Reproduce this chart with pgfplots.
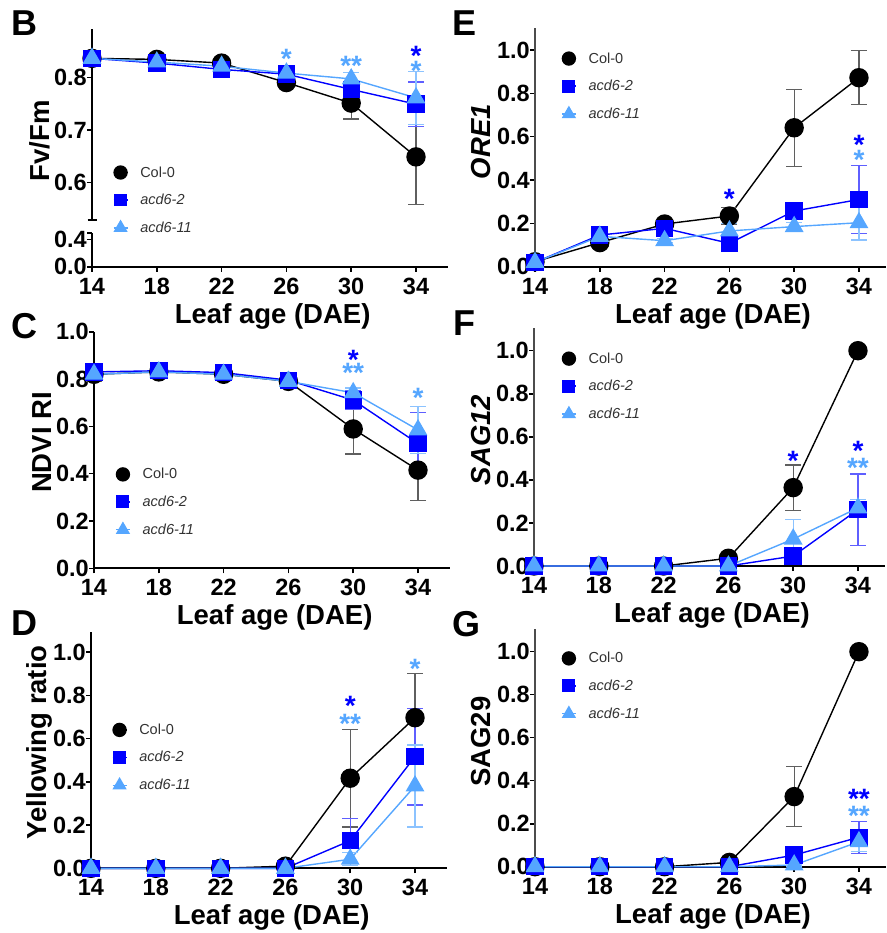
\documentclass[border=0pt]{standalone}
\usepackage{pgfplots}
\pgfplotsset{compat=1.18}
\usepackage{fontspec}
\setmainfont{Liberation Sans}
\definecolor{cblue}{RGB}{0,0,255}
\definecolor{clight}{RGB}{85,166,255}
\definecolor{eblack}{RGB}{95,95,95}
\definecolor{eblue}{RGB}{95,95,255}
\definecolor{elight}{RGB}{140,195,255}
\definecolor{legtext}{RGB}{50,50,50}
\newcommand\tickfont{\fontsize{23.5}{26}\selectfont\bfseries}
\newcommand\labfont{\fontsize{27.5}{30}\selectfont\bfseries}
\newcommand\legfont{\fontsize{14.5}{17}\selectfont}
\newcommand\letfont{\fontsize{36}{40}\selectfont\bfseries}
\newcommand\starfont{\fontsize{28}{30}\selectfont\bfseries}
\tikzset{sig/.style={anchor=base, yshift=-16pt, font=\starfont, inner sep=0pt}}
\pgfplotsset{
 prism/.style={
  scale only axis, clip=false,
  axis x line*=bottom, axis y line*=left,
  axis line style={line width=2pt,-},
  tick align=outside, major tick length=5pt,
  every tick/.style={line width=1.6pt, black},
  xmin=14,
  xtick={14,18,22,26,30,34},
  ymin=0,
  tick label style={font=\tickfont},
  /pgf/number format/assume math mode=true,
  yticklabel style={/pgf/number format/fixed,/pgf/number format/fixed zerofill,/pgf/number format/precision=1, inner sep=0pt},
  xticklabel style={inner sep=0pt, yshift=-6pt},
  label style={font=\labfont},
  xlabel style={at={(axis description cs:0.507,0)}, anchor=north, inner sep=0pt, yshift=-36.5pt},
  legend style={draw=none, fill=none, inner sep=0pt, font=\legfont, text=legtext, row sep=15pt, column sep=12pt, nodes={inner sep=0pt}},
  legend cell align=left,
  legend image code/.code={
    \draw[##1, line width=1.4pt] (-7pt,0pt) -- (7pt,0pt);
    \draw[##1, /tikz/every mark/.append style={scale=0.72}] plot coordinates {(0pt,0pt)};
  },
 },
 left/.style={xmax=36, width=356.4pt},
 right/.style={xmax=35.67, width=351pt, y axis line style={line width=1.3pt, black!70}},
 col0/.style={black, line width=1.4pt, mark=*, mark size=9pt, mark options={solid, fill=black},
   /pgfplots/error bars/y dir=both, /pgfplots/error bars/y explicit,
   /pgfplots/error bars/error bar style={eblack, line width=1.2pt},
   /pgfplots/error bars/error mark options={rotate=90, eblack, line width=1.2pt, mark size=8pt}},
 a2/.style={cblue, line width=1.4pt, mark=square*, mark size=8pt, mark options={solid, fill=cblue},
   /pgfplots/error bars/y dir=both, /pgfplots/error bars/y explicit,
   /pgfplots/error bars/error bar style={eblue, line width=1.2pt},
   /pgfplots/error bars/error mark options={rotate=90, eblue, line width=1.2pt, mark size=8pt}},
 a11/.style={clight, line width=1.4pt, mark=triangle*, mark size=9.5pt, mark options={solid, fill=clight},
   /pgfplots/error bars/y dir=both, /pgfplots/error bars/y explicit,
   /pgfplots/error bars/error bar style={elight, line width=1.2pt},
   /pgfplots/error bars/error mark options={rotate=90, elight, line width=1.2pt, mark size=8pt}},
}
\begin{document}
\begin{tikzpicture}
\useasboundingbox (0pt,0pt) rectangle (886pt,-933pt);
% ---------------- B (top part) ----------------
\begin{axis}[prism, left, at={(92pt,-220pt)}, anchor=south west, height=191pt,
  ymin=0.5292, ymax=0.8917, axis x line=none, xtick=\empty,
  ytick={0.6,0.7,0.8},
  extra y ticks={0.5292}, extra y tick labels={}, extra y tick style={major tick length=9pt, tick align=center},
  ylabel={Fv/Fm}, ylabel style={at={(axis description cs:-0.118,0.414)}, anchor=base, inner sep=0pt},
  legend style={at={(0.058,0.105)}, anchor=west}]
\addplot[col0] coordinates {(14,0.836)+-(0,0.005) (18,0.834)+-(0,0.004) (22,0.827)+-(0,0.005) (26,0.790)+-(0,0.008) (30,0.751)+-(0,0.030) (34,0.649)+-(0,0.091)};
\addlegendentry{Col-0}
\addplot[a2] coordinates {(14,0.836)+-(0,0.004) (18,0.827)+-(0,0.004) (22,0.815)+-(0,0.005) (26,0.806)+-(0,0.006) (30,0.777)+-(0,0.012) (34,0.749)+-(0,0.042)};
\addlegendentry{\textit{acd6-2}}
\addplot[a11] coordinates {(14,0.836)+-(0,0.004) (18,0.829)+-(0,0.004) (22,0.821)+-(0,0.005) (26,0.808)+-(0,0.006) (30,0.797)+-(0,0.012) (34,0.761)+-(0,0.050)};
\addlegendentry{\textit{acd6-11}}
\node[sig, text=clight] at (axis cs:26,0.847) {*};
\node[sig, text=clight] at (axis cs:30,0.834) {**};
\node[sig, text=cblue] at (axis cs:34,0.852) {*};
\node[sig, text=clight] at (axis cs:34,0.825) {*};
\end{axis}
% ---------------- B (bottom part) ----------------
\begin{axis}[prism, left, at={(92pt,-266.7pt)}, anchor=south west, height=33.7pt,
  ymin=0, ymax=0.492, ytick={0,0.4},
  extra y ticks={0.492}, extra y tick labels={},
  xlabel={Leaf age (DAE)}]
\end{axis}
% ---------------- C ----------------
\begin{axis}[prism, left, at={(94pt,-568.3pt)}, anchor=south west, height=236.6pt,
  ymax=1, ytick={0,0.2,...,1.0},
  xlabel={Leaf age (DAE)},
  ylabel={NDVI RI}, ylabel style={at={(axis description cs:-0.118,0.532)}, anchor=base, inner sep=0pt},
  legend style={at={(0.059,0.281)}, anchor=west}]
\addplot[col0] coordinates {(14,0.820)+-(0,0.030) (18,0.830)+-(0,0.010) (22,0.820)+-(0,0.010) (26,0.790)+-(0,0.010) (30,0.589)+-(0,0.106) (34,0.415)+-(0,0.130)};
\addlegendentry{Col-0}
\addplot[a2] coordinates {(14,0.830)+-(0,0.010) (18,0.835)+-(0,0.010) (22,0.827)+-(0,0.010) (26,0.795)+-(0,0.010) (30,0.711)+-(0,0.040) (34,0.527)+-(0,0.130)};
\addlegendentry{\textit{acd6-2}}
\addplot[a11] coordinates {(14,0.820)+-(0,0.010) (18,0.830)+-(0,0.010) (22,0.820)+-(0,0.010) (26,0.790)+-(0,0.010) (30,0.742)+-(0,0.020) (34,0.585)+-(0,0.100)};
\addlegendentry{\textit{acd6-11}}
\node[sig, text=cblue] at (axis cs:30,0.909) {*};
\node[sig, text=clight] at (axis cs:30,0.852) {**};
\node[sig, text=clight] at (axis cs:34,0.749) {*};
\end{axis}
% ---------------- D ----------------
\begin{axis}[prism, left, at={(91pt,-868.3pt)}, anchor=south west, height=236.6pt,
  ymax=1.095, ytick={0,0.2,...,1.0},
  xlabel={Leaf age (DAE)},
  ylabel={Yellowing ratio}, ylabel style={at={(axis description cs:-0.125,0.532)}, anchor=base, inner sep=0pt},
  legend style={at={(0.058,0.469)}, anchor=west}]
\addplot[col0] coordinates {(14,0)+-(0,0) (18,0)+-(0,0) (22,0)+-(0,0) (26,0.010)+-(0,0.005) (30,0.417)+-(0,0.226) (34,0.697)+-(0,0.205)};
\addlegendentry{Col-0}
\addplot[a2] coordinates {(14,0)+-(0,0) (18,0)+-(0,0) (22,0)+-(0,0) (26,0)+-(0,0) (30,0.128)+-(0,0.103) (34,0.517)+-(0,0.224)};
\addlegendentry{\textit{acd6-2}}
\addplot[a11] coordinates {(14,0)+-(0,0) (18,0)+-(0,0) (22,0)+-(0,0) (26,0)+-(0,0) (30,0.042)+-(0,0.030) (34,0.381)+-(0,0.190)};
\addlegendentry{\textit{acd6-11}}
\node[sig, text=cblue] at (axis cs:30,0.779) {*};
\node[sig, text=clight] at (axis cs:30,0.699) {**};
\node[sig, text=clight] at (axis cs:34,0.952) {*};
\end{axis}
% ---------------- E ----------------
\begin{axis}[prism, right, at={(535pt,-266.7pt)}, anchor=south west, height=238.4pt,
  ymax=1.1, ytick={0,0.2,...,1.0},
  xlabel={Leaf age (DAE)},
  ylabel={\textit{ORE1}}, ylabel style={at={(axis description cs:-0.126,0.524)}, anchor=base, inner sep=0pt},
  legend style={at={(0.074,0.758)}, anchor=west}]
\addplot[col0] coordinates {(14,0.023)+-(0,0.010) (18,0.111)+-(0,0.010) (22,0.197)+-(0,0.010) (26,0.234)+-(0,0.040) (30,0.641)+-(0,0.178) (34,0.872)+-(0,0.125)};
\addlegendentry{Col-0}
\addplot[a2] coordinates {(14,0.020)+-(0,0.005) (18,0.146)+-(0,0.010) (22,0.177)+-(0,0.010) (26,0.108)+-(0,0.010) (30,0.257)+-(0,0.030) (34,0.310)+-(0,0.158)};
\addlegendentry{\textit{acd6-2}}
\addplot[a11] coordinates {(14,0.020)+-(0,0.005) (18,0.140)+-(0,0.010) (22,0.120)+-(0,0.010) (26,0.165)+-(0,0.035) (30,0.185)+-(0,0.020) (34,0.203)+-(0,0.080)};
\addlegendentry{\textit{acd6-11}}
\node[sig, text=cblue] at (axis cs:26,0.341) {*};
\node[sig, text=cblue] at (axis cs:34,0.593) {*};
\node[sig, text=clight] at (axis cs:34,0.523) {*};
\end{axis}
% ---------------- F ----------------
\begin{axis}[prism, right, at={(534pt,-566pt)}, anchor=south west, height=237.7pt,
  ymax=1.104, ytick={0,0.2,...,1.0},
  xlabel={Leaf age (DAE)},
  ylabel={\textit{SAG12}}, ylabel style={at={(axis description cs:-0.123,0.53)}, anchor=base, inner sep=0pt},
  legend style={at={(0.077,0.757)}, anchor=west}]
\addplot[col0] coordinates {(14,0)+-(0,0) (18,0)+-(0,0) (22,0)+-(0,0) (26,0.036)+-(0,0.005) (30,0.364)+-(0,0.105) (34,1.0)+-(0,0)};
\addlegendentry{Col-0}
\addplot[a2] coordinates {(14,0)+-(0,0) (18,0)+-(0,0) (22,0)+-(0,0) (26,0)+-(0,0) (30,0.046)+-(0,0.010) (34,0.262)+-(0,0.165)};
\addlegendentry{\textit{acd6-2}}
\addplot[a11] coordinates {(14,0)+-(0,0) (18,0)+-(0,0) (22,0)+-(0,0) (26,0)+-(0,0) (30,0.125)+-(0,0.092) (34,0.270)+-(0,0.040)};
\addlegendentry{\textit{acd6-11}}
\node[sig, text=cblue] at (axis cs:30,0.519) {*};
\node[sig, text=cblue] at (axis cs:34,0.565) {*};
\node[sig, text=clight] at (axis cs:34,0.484) {**};
\end{axis}
% ---------------- G ----------------
\begin{axis}[prism, right, at={(535pt,-866.7pt)}, anchor=south west, height=237.4pt,
  ymax=1.104, ytick={0,0.2,...,1.0},
  xlabel={Leaf age (DAE)},
  ylabel={SAG29}, ylabel style={at={(axis description cs:-0.126,0.527)}, anchor=base, inner sep=0pt},
  legend style={at={(0.074,0.762)}, anchor=west}]
\addplot[col0] coordinates {(14,0)+-(0,0) (18,0)+-(0,0) (22,0)+-(0,0) (26,0.020)+-(0,0.005) (30,0.326)+-(0,0.140) (34,1.0)+-(0,0)};
\addlegendentry{Col-0}
\addplot[a2] coordinates {(14,0)+-(0,0) (18,0)+-(0,0) (22,0)+-(0,0) (26,0)+-(0,0) (30,0.054)+-(0,0.005) (34,0.137)+-(0,0.075)};
\addlegendentry{\textit{acd6-2}}
\addplot[a11] coordinates {(14,0)+-(0,0) (18,0)+-(0,0) (22,0)+-(0,0) (26,0)+-(0,0) (30,0.008)+-(0,0.005) (34,0.116)+-(0,0.045)};
\addlegendentry{\textit{acd6-11}}
\node[sig, text=cblue] at (axis cs:34,0.344) {**};
\node[sig, text=clight] at (axis cs:34,0.268) {**};
\end{axis}
% ---------------- panel letters ----------------
\node[font=\letfont, inner sep=0pt] at (24.5pt,-23.3pt) {B};
\node[font=\letfont, inner sep=0pt] at (24.5pt,-326.5pt) {C};
\node[font=\letfont, inner sep=0pt] at (24.5pt,-623.5pt) {D};
\node[font=\letfont, inner sep=0pt] at (464.5pt,-23.5pt) {E};
\node[font=\letfont, inner sep=0pt] at (464.5pt,-323.5pt) {F};
\node[font=\letfont, inner sep=0pt] at (466pt,-624.5pt) {G};
\end{tikzpicture}
\end{document}
